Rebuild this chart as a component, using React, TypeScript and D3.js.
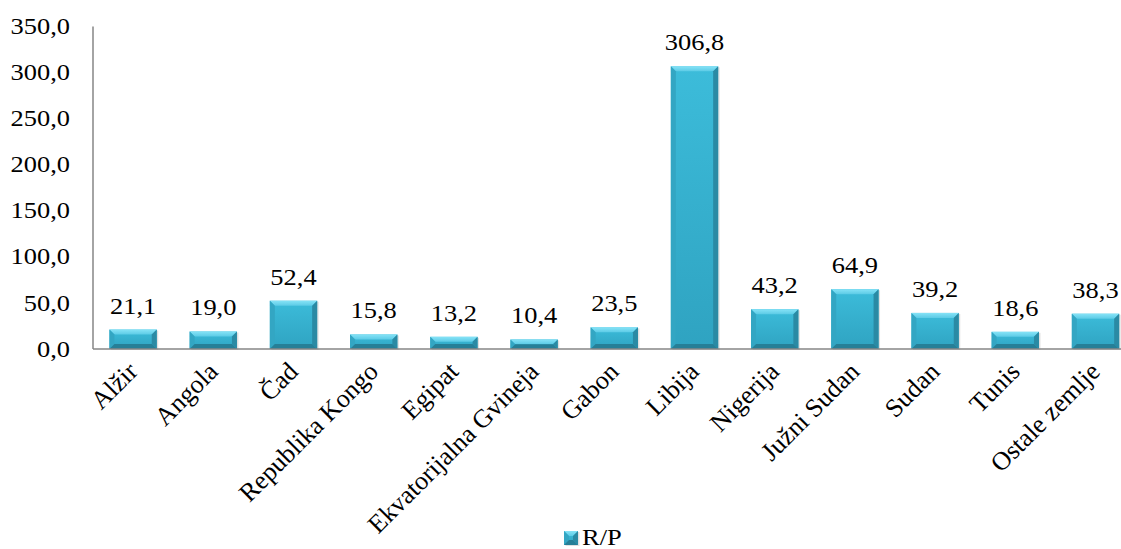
import React from "react";
import * as d3 from "d3";

const categories = ["Alžir", "Angola", "Čad", "Republika Kongo", "Egipat", "Ekvatorijalna Gvineja", "Gabon", "Libija", "Nigerija", "Južni Sudan", "Sudan", "Tunis", "Ostale zemlje"];
const values = [21.1, 19.0, 52.4, 15.8, 13.2, 10.4, 23.5, 306.8, 43.2, 64.9, 39.2, 18.6, 38.3];
const yTicks = [0, 50, 100, 150, 200, 250, 300, 350];
const seriesName = "R/P";

const W = 1121;
const H = 549;
const FONT = "Liberation Serif";
const SX = 1.15;

const fmt = (v: number) => v.toFixed(1).replace(".", ",");

function Bar({ x, y, w, h }: { x: number; y: number; w: number; h: number }) {
  const b = Math.min(5, h / 2);
  const x1 = x + w;
  const y1 = y + h;
  return (
    <g>
      <rect x={x + 1.5} y={y + 1} width={w} height={h} fill="#000" opacity={0.12} />
      <rect x={x} y={y} width={w} height={h} fill="url(#faceGrad)" />
      <polygon points={`${x},${y} ${x1},${y} ${x1 - b},${y + b} ${x + b},${y + b}`} fill="url(#topGrad)" />
      <polygon points={`${x},${y} ${x + b},${y + b} ${x + b},${y1 - b} ${x},${y1}`} fill="#33a6c3" />
      <polygon points={`${x1},${y} ${x1 - b},${y + b} ${x1 - b},${y1 - b} ${x1},${y1}`} fill="#2a8aa4" />
      <polygon points={`${x},${y1} ${x + b},${y1 - b} ${x1 - b},${y1 - b} ${x1},${y1}`} fill="#267f97" />
    </g>
  );
}

export default function App() {
  const left = 93;
  const zeroY = 349;
  const topY = 26.5;
  const band = 80.2;
  const x = d3
    .scaleBand<string>()
    .domain(categories)
    .range([left, left + band * categories.length])
    .paddingInner(0.41)
    .paddingOuter(0.205);
  const y = d3.scaleLinear().domain([0, 350]).range([zeroY, topY]);
  const bw = x.bandwidth();

  return (
    <svg width={W} height={H} style={{ position: "absolute", left: 0, top: 0, background: "#fff" }} fontFamily={FONT}>
      <defs>
        <linearGradient id="faceGrad" x1="0" y1="0" x2="0" y2="1">
          <stop offset="0" stopColor="#3cbcda" />
          <stop offset="1" stopColor="#2fa3c1" />
        </linearGradient>
        <linearGradient id="topGrad" x1="0" y1="0" x2="0" y2="1">
          <stop offset="0" stopColor="#86e3f7" />
          <stop offset="1" stopColor="#5ccbe6" />
        </linearGradient>
      </defs>
      <rect x={0} y={0} width={W} height={H} fill="#fff" />
      {/* y axis */}
      <line x1={left} x2={left} y1={topY} y2={zeroY} stroke="#868686" strokeWidth={1.5} />
      {yTicks.map((t) => (
        <text key={t} transform={`translate(70,${y(t)}) scale(${SX},1)`} dy="0.33em" textAnchor="end" fontSize={23} fill="#000">
          {fmt(t)}
        </text>
      ))}
      {/* bars */}
      {categories.map((c, i) => {
        const bx = x(c)!;
        const by = y(values[i]);
        return <Bar key={c} x={bx} y={by} w={bw} h={zeroY - by} />;
      })}
      {/* x axis */}
      <line x1={left} x2={W} y1={zeroY} y2={zeroY} stroke="#868686" strokeWidth={1.5} />
      {/* value labels */}
      {categories.map((c, i) => (
        <text
          key={c}
          transform={`translate(${x(c)! + bw / 2},${y(values[i]) - 16}) scale(${SX},1)`}
          textAnchor="middle"
          fontSize={23}
          fill="#000"
        >
          {fmt(values[i])}
        </text>
      ))}
      {/* category labels */}
      {categories.map((c) => {
        const cx = x(c)! + bw / 2;
        return (
          <text
            key={c}
            transform={`translate(${cx + 6},${373}) rotate(-45)`}
            textAnchor="end"
            fontSize={26}
            fill="#000"
          >
            {c}
          </text>
        );
      })}
      {/* legend */}
      <g>
        <Bar x={564} y={531} w={14} h={14} />
        <text transform={`translate(582,545) scale(${SX},1)`} fontSize={23} fill="#000">
          {seriesName}
        </text>
      </g>
    </svg>
  );
}
